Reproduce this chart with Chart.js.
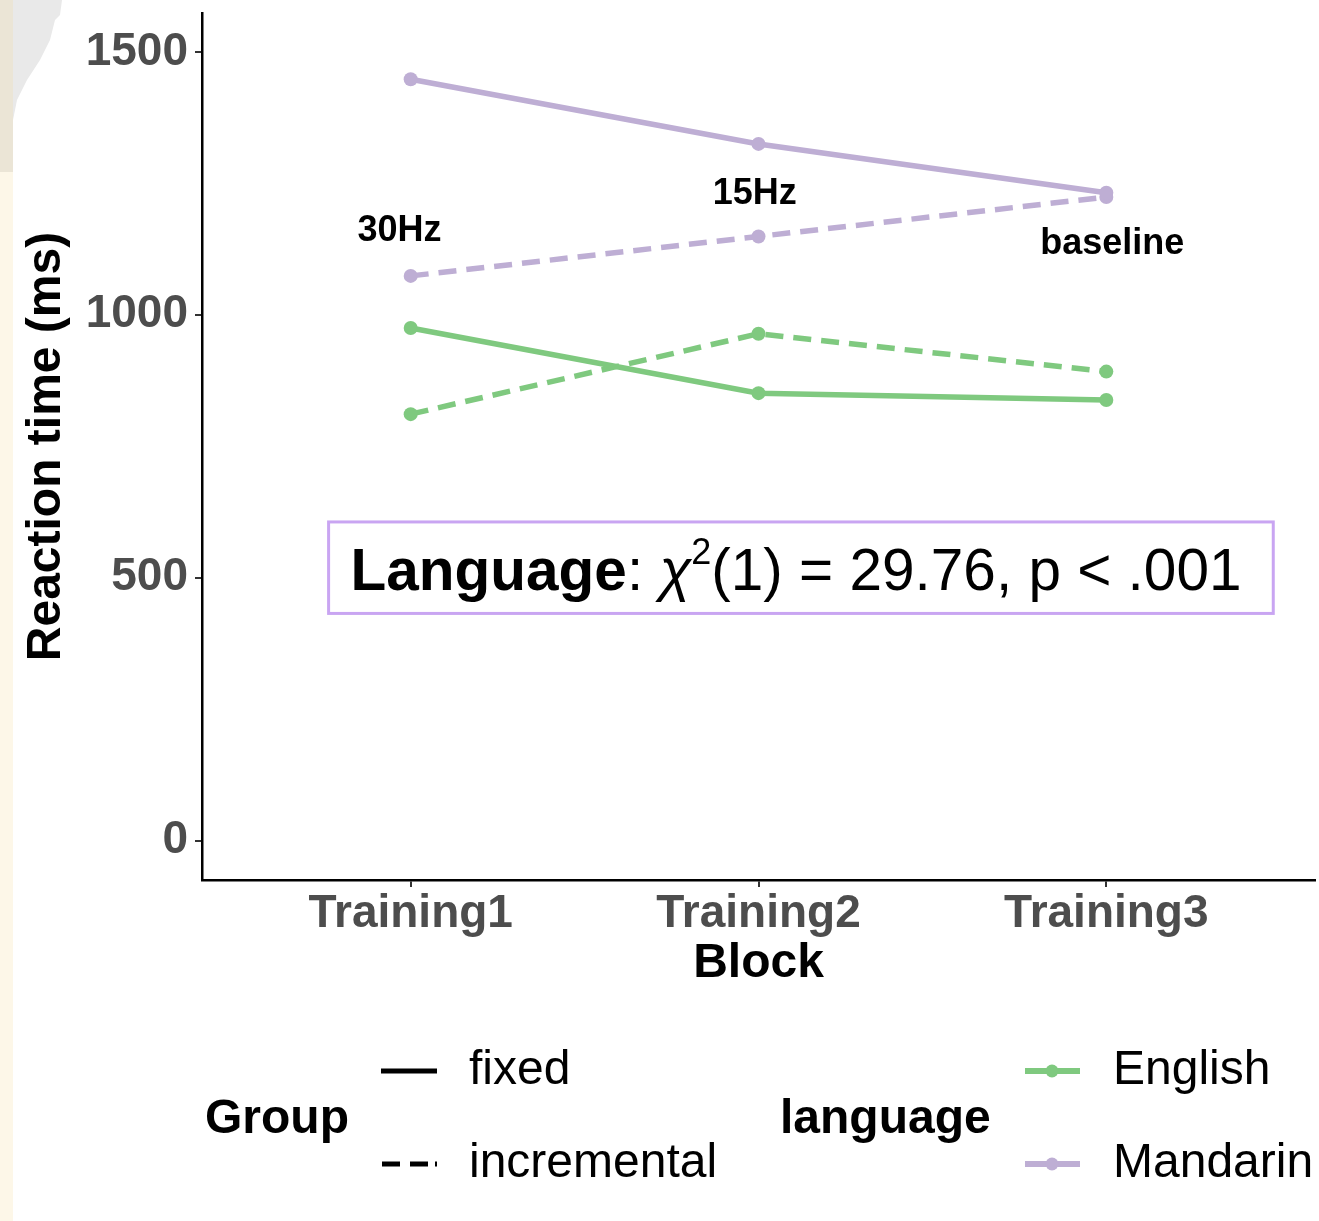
<!DOCTYPE html>
<html>
<head>
<meta charset="utf-8">
<title>Reaction time by block</title>
<script src="https://cdn.jsdelivr.net/npm/chart.js@4.4.1/dist/chart.umd.min.js"></script>
<style>
  html, body { margin: 0; padding: 0; background: #fff; }
  #wrap { position: relative; width: 1319px; height: 1221px; overflow: hidden; }
  .edge { position: absolute; left: 0; top: 0; width: 13px; height: 1221px; background: #fdf7e8; }
  .edge-top { position: absolute; left: 0; top: 0; width: 13px; height: 172px; background: #ebe5d6; }
  .paper { position: absolute; left: 13px; top: 0; width: 52px; height: 180px; background: #e9e9e9;
    clip-path: polygon(0 0, 49px 0, 47px 15px, 42px 20px, 37px 40px, 27px 60px, 14px 80px, 4px 100px, 0 120px); }
  canvas { position: absolute; left: 0; top: 0; }
</style>
</head>
<body>
<div id="wrap">
  <div class="edge"></div>
  <div class="edge-top"></div>
  <div class="paper"></div>
  <canvas id="rtChart" width="1319" height="1221"></canvas>
</div>
<script>
(function () {
  "use strict";

  var BLOCKS = ["Training1", "Training2", "Training3"];
  var Y_TICKS = [0, 500, 1000, 1500];

  // mean RT (ms) per block
  var ENGLISH_FIXED = [975, 851, 838];
  var ENGLISH_INCREMENTAL = [811, 964, 892];
  var MANDARIN_FIXED = [1448, 1325, 1232];
  var MANDARIN_INCREMENTAL = [1074, 1149, 1224];

  // frequency labels, placed in data units (block index, ms)
  var FREQ_LABELS = ["30Hz", "15Hz", "baseline"];
  var FREQ_LABEL_X = [-0.032, 0.989, 2.017];
  var FREQ_LABEL_Y = [1159, 1229, 1134];

  // stats box corners, data units
  var STAT_BOX_X = [-0.236, 2.48];
  var STAT_BOX_Y = [432, 606];

  var GREEN = "#7fc97f";
  var PURPLE = "#beaed4";
  var BOX_COLOR = "#c9a5f2";
  var FONT = "'Liberation Sans', Arial, Helvetica, sans-serif";

  function points(values) {
    return values.map(function (v, i) {
      return { x: i, y: v };
    });
  }

  function series(label, values, color, dashed) {
    return {
      label: label,
      data: points(values),
      borderColor: color,
      backgroundColor: color,
      borderWidth: 5.5,
      borderDash: dashed ? [18, 10] : [],
      pointRadius: 7,
      pointBorderWidth: 0,
      pointBackgroundColor: color,
      tension: 0,
      fill: false,
    };
  }

  var overlayPlugin = {
    id: "overlay",
    afterDatasetsDraw: function (chart) {
      var ctx = chart.ctx;
      var xs = chart.scales.x;
      var ys = chart.scales.y;
      ctx.save();

      ctx.font = "bold 36px " + FONT;
      ctx.fillStyle = "#000";
      ctx.textAlign = "center";
      ctx.textBaseline = "middle";
      for (var i = 0; i < FREQ_LABELS.length; i++) {
        ctx.fillText(FREQ_LABELS[i], xs.getPixelForValue(FREQ_LABEL_X[i]), ys.getPixelForValue(FREQ_LABEL_Y[i]));
      }

      var l = xs.getPixelForValue(STAT_BOX_X[0]);
      var r = xs.getPixelForValue(STAT_BOX_X[1]);
      var t = ys.getPixelForValue(STAT_BOX_Y[1]);
      var b = ys.getPixelForValue(STAT_BOX_Y[0]);
      ctx.fillStyle = "#fff";
      ctx.fillRect(l, t, r - l, b - t);
      ctx.strokeStyle = BOX_COLOR;
      ctx.lineWidth = 3;
      ctx.strokeRect(l, t, r - l, b - t);

      var runs = [
        { text: "Language", font: "bold 58.5px " + FONT, dy: 0 },
        { text: ": ", font: "58.5px " + FONT, dy: 0 },
        { text: "\u03c7", font: "italic 58.5px " + FONT, dy: 0 },
        { text: "2", font: "36px " + FONT, dy: -26 },
        { text: "(1) = 29.76, p < .001", font: "58.5px " + FONT, dy: 0 },
      ];
      var x = l + 22;
      var base = b - 23;
      ctx.textAlign = "left";
      ctx.textBaseline = "alphabetic";
      ctx.fillStyle = "#000";
      runs.forEach(function (run) {
        ctx.font = run.font;
        ctx.fillText(run.text, x, base + run.dy);
        x += ctx.measureText(run.text).width;
      });

      ctx.restore();
    },
  };

  var legendPlugin = {
    id: "twoLegends",
    afterDraw: function (chart) {
      var ctx = chart.ctx;
      var rowA = 1071;
      var rowB = 1164;
      var mid = 1120;
      ctx.save();
      ctx.fillStyle = "#000";
      ctx.textBaseline = "middle";
      ctx.textAlign = "left";

      ctx.font = "bold 48px " + FONT;
      ctx.fillText("Group", 205, mid);
      ctx.fillText("language", 780, mid);

      ctx.strokeStyle = "#000";
      ctx.lineWidth = 5;
      ctx.beginPath();
      ctx.moveTo(381, rowA);
      ctx.lineTo(437, rowA);
      ctx.stroke();
      ctx.setLineDash([18, 10]);
      ctx.beginPath();
      ctx.moveTo(382, rowB);
      ctx.lineTo(437, rowB);
      ctx.stroke();
      ctx.setLineDash([]);
      ctx.lineWidth = 2;
      ctx.beginPath();
      ctx.moveTo(436, rowB - 2.5);
      ctx.lineTo(436, rowB + 2.5);
      ctx.stroke();

      var langs = [[GREEN, rowA, "English"], [PURPLE, rowB, "Mandarin"]];
      langs.forEach(function (item) {
        ctx.strokeStyle = item[0];
        ctx.fillStyle = item[0];
        ctx.lineWidth = 6;
        ctx.beginPath();
        ctx.moveTo(1025, item[1]);
        ctx.lineTo(1080, item[1]);
        ctx.stroke();
        ctx.beginPath();
        ctx.arc(1052, item[1], 6.5, 0, Math.PI * 2);
        ctx.fill();
      });

      ctx.fillStyle = "#000";
      ctx.font = "48px " + FONT;
      ctx.fillText("fixed", 469, rowA);
      ctx.fillText("incremental", 469, rowB);
      ctx.fillText("English", 1113, rowA);
      ctx.fillText("Mandarin", 1113, rowB);
      ctx.restore();
    },
  };

  var tickFont = { family: FONT, size: 46, weight: "bold" };

  new Chart(document.getElementById("rtChart").getContext("2d"), {
    type: "line",
    data: {
      datasets: [
        series("English fixed", ENGLISH_FIXED, GREEN, false),
        series("English incremental", ENGLISH_INCREMENTAL, GREEN, true),
        series("Mandarin fixed", MANDARIN_FIXED, PURPLE, false),
        series("Mandarin incremental", MANDARIN_INCREMENTAL, PURPLE, true),
      ],
    },
    options: {
      responsive: false,
      animation: false,
      devicePixelRatio: 1,
      layout: { autoPadding: false, padding: { left: 0, top: 13, right: 4, bottom: 228 } },
      plugins: {
        legend: { display: false },
        tooltip: { enabled: false },
      },
      scales: {
        x: {
          type: "linear",
          min: -0.6,
          max: 2.6,
          afterBuildTicks: function (scale) {
            scale.ticks = BLOCKS.map(function (b, i) {
              return { value: i };
            });
          },
          afterFit: function (scale) {
            scale.height = 113;
            scale.paddingLeft = 0;
            scale.paddingRight = 0;
          },
          ticks: {
            autoSkip: false,
            maxRotation: 0,
            color: "#4d4d4d",
            font: tickFont,
            padding: 0,
            callback: function (v) {
              return BLOCKS[v];
            },
          },
          grid: {
            drawOnChartArea: false,
            tickLength: 7,
            tickColor: "#333",
            lineWidth: 2,
          },
          border: { display: true, color: "#000", width: 2.5 },
          title: {
            display: true,
            text: "Block",
            color: "#000",
            font: { family: FONT, size: 48, weight: "bold" },
            padding: { top: 0, bottom: 0 },
          },
        },
        y: {
          min: -75,
          max: 1574,
          afterBuildTicks: function (scale) {
            scale.ticks = Y_TICKS.map(function (v) {
              return { value: v };
            });
          },
          afterFit: function (scale) {
            scale.width = 202;
            scale.paddingTop = 0;
            scale.paddingBottom = 0;
          },
          ticks: {
            color: "#4d4d4d",
            font: tickFont,
            padding: 7,
            callback: function (v) {
              return String(v);
            },
          },
          grid: {
            drawOnChartArea: false,
            tickLength: 7,
            tickColor: "#333",
            lineWidth: 2,
          },
          border: { display: true, color: "#000", width: 2.5 },
          title: {
            display: true,
            text: "Reaction time (ms)",
            color: "#000",
            font: { family: FONT, size: 48, weight: "bold" },
            padding: { top: 18, bottom: 0 },
          },
        },
      },
    },
    plugins: [overlayPlugin, legendPlugin],
  });
})();
</script>
</body>
</html>
